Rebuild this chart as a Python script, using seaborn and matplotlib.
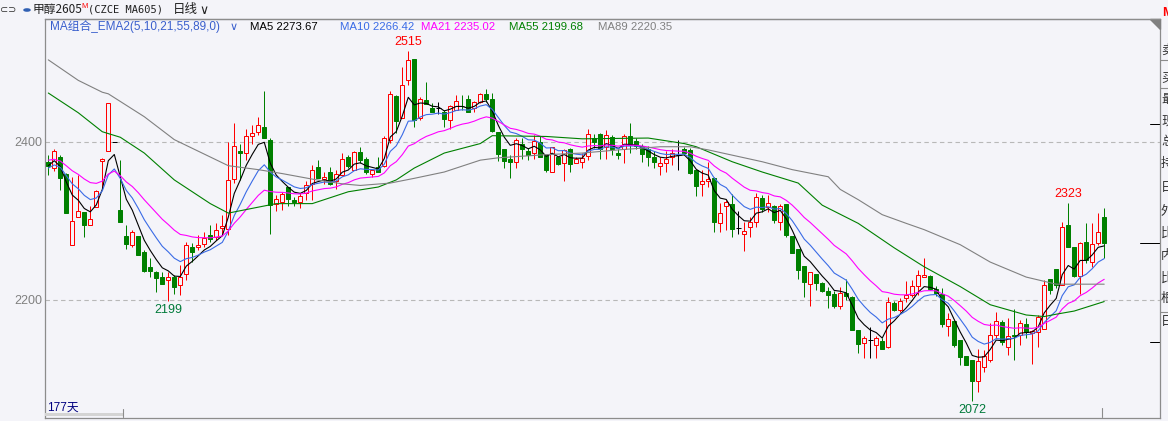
import matplotlib
matplotlib.use("Agg")
import matplotlib.pyplot as plt
import matplotlib.transforms as mtransforms
from matplotlib.patches import Rectangle, Polygon
import numpy as np
import pandas as pd
import seaborn as sns

# ---------------------------------------------------------------
# daily candles, methanol 2605
# ---------------------------------------------------------------
opens = [2375, 2367, 2381, 2360, 2270, 2305, 2311, 2295, 2318, 2376,
         2389, 2400, 2314, 2281, 2270, 2281, 2261, 2242, 2235, 2229,
         2225, 2229, 2219, 2233, 2267, 2267, 2271, 2282, 2280, 2291,
         2290, 2353, 2388, 2386, 2408, 2413, 2419, 2403, 2322, 2324,
         2343, 2327, 2324, 2335, 2347, 2368, 2353, 2362, 2351, 2358,
         2381, 2365, 2387, 2378, 2360, 2368, 2369, 2403, 2458, 2430,
         2479, 2505, 2431, 2453, 2443, 2443, 2438, 2428, 2441, 2446,
         2455, 2443, 2451, 2461, 2455, 2413, 2391, 2379, 2375, 2398,
         2388, 2386, 2400, 2384, 2362, 2381, 2373, 2391, 2374, 2375,
         2382, 2405, 2410, 2394, 2406, 2386, 2391, 2407, 2401, 2395,
         2391, 2381, 2370, 2374, 2381, 2384, 2391, 2390, 2365, 2347,
         2350, 2354, 2297, 2319, 2322, 2291, 2284, 2293, 2299, 2329,
         2318, 2319, 2299, 2322, 2281, 2264, 2243, 2220, 2233, 2222,
         2212, 2207, 2192, 2209, 2204, 2162, 2146, 2149, 2143, 2148,
         2141, 2196, 2187, 2202, 2206, 2218, 2229, 2230, 2214, 2208,
         2167, 2173, 2149, 2129, 2124, 2097, 2115, 2124, 2156, 2172,
         2141, 2156, 2156, 2170, 2158, 2160, 2163, 2227, 2239, 2219,
         2295, 2267, 2230, 2274, 2248, 2272, 2305]
closes = [2369, 2389, 2354, 2310, 2300, 2313, 2295, 2303, 2338, 2379,
          2449, 2400, 2299, 2271, 2286, 2257, 2237, 2237, 2228, 2220,
          2229, 2217, 2229, 2269, 2261, 2270, 2278, 2277, 2289, 2294,
          2352, 2395, 2386, 2408, 2412, 2422, 2405, 2320, 2328, 2334,
          2328, 2324, 2332, 2346, 2365, 2355, 2356, 2347, 2359, 2379,
          2370, 2387, 2377, 2362, 2364, 2362, 2405, 2461, 2427, 2472,
          2504, 2428, 2454, 2448, 2438, 2443, 2429, 2446, 2452, 2445,
          2438, 2450, 2461, 2455, 2414, 2385, 2376, 2375, 2402, 2391,
          2383, 2401, 2381, 2365, 2394, 2372, 2390, 2372, 2378, 2380,
          2410, 2400, 2391, 2409, 2391, 2384, 2408, 2396, 2395, 2385,
          2381, 2375, 2374, 2378, 2386, 2384, 2386, 2361, 2344, 2351,
          2353, 2299, 2310, 2324, 2290, 2291, 2287, 2299, 2330, 2315,
          2323, 2301, 2319, 2282, 2259, 2238, 2223, 2235, 2221, 2212,
          2206, 2192, 2209, 2205, 2162, 2144, 2152, 2149, 2152, 2138,
          2197, 2187, 2199, 2206, 2218, 2231, 2231, 2214, 2209, 2170,
          2176, 2143, 2128, 2118, 2098, 2123, 2129, 2156, 2173, 2147,
          2154, 2154, 2171, 2160, 2161, 2179, 2219, 2213, 2219, 2292,
          2267, 2230, 2272, 2250, 2271, 2286, 2272]
highs = [2384, 2391, 2384, 2361, 2356, 2358, 2312, 2319, 2339, 2380,
         2449, 2400, 2377, 2295, 2289, 2281, 2263, 2253, 2237, 2235,
         2235, 2232, 2244, 2274, 2272, 2282, 2286, 2295, 2297, 2308,
         2400, 2424, 2398, 2417, 2422, 2432, 2464, 2405, 2333, 2337,
         2343, 2331, 2335, 2350, 2371, 2377, 2362, 2368, 2365, 2386,
         2384, 2388, 2394, 2381, 2365, 2381, 2408, 2464, 2460, 2495,
         2515, 2505, 2457, 2476, 2449, 2450, 2441, 2447, 2460, 2460,
         2460, 2452, 2462, 2467, 2462, 2413, 2391, 2384, 2405, 2405,
         2393, 2409, 2407, 2384, 2394, 2381, 2391, 2392, 2381, 2386,
         2416, 2410, 2411, 2415, 2409, 2391, 2410, 2424, 2405, 2398,
         2395, 2388, 2381, 2389, 2391, 2403, 2394, 2392, 2365, 2365,
         2375, 2356, 2323, 2327, 2334, 2313, 2299, 2305, 2336, 2333,
         2333, 2320, 2322, 2322, 2281, 2264, 2243, 2236, 2233, 2223,
         2217, 2211, 2216, 2226, 2205, 2162, 2154, 2166, 2154, 2152,
         2204, 2199, 2202, 2224, 2225, 2238, 2253, 2232, 2218, 2215,
         2183, 2173, 2149, 2129, 2124, 2138, 2137, 2171, 2185, 2175,
         2177, 2188, 2175, 2177, 2162, 2181, 2225, 2227, 2239, 2299,
         2323, 2267, 2274, 2298, 2297, 2310, 2317]
lows = [2358, 2363, 2339, 2310, 2270, 2305, 2280, 2295, 2318, 2339,
        2389, 2400, 2299, 2265, 2267, 2257, 2236, 2229, 2210, 2220,
        2199, 2208, 2206, 2225, 2248, 2263, 2267, 2274, 2276, 2284,
        2282, 2348, 2352, 2377, 2398, 2409, 2405, 2284, 2313, 2314,
        2319, 2319, 2317, 2327, 2327, 2354, 2347, 2346, 2340, 2357,
        2367, 2364, 2373, 2360, 2356, 2362, 2368, 2399, 2411, 2430,
        2472, 2419, 2428, 2448, 2438, 2436, 2419, 2417, 2440, 2441,
        2438, 2438, 2449, 2451, 2413, 2376, 2367, 2355, 2367, 2378,
        2377, 2379, 2381, 2362, 2362, 2371, 2350, 2362, 2373, 2367,
        2377, 2392, 2378, 2378, 2384, 2378, 2373, 2386, 2391, 2375,
        2369, 2367, 2358, 2362, 2371, 2365, 2384, 2360, 2332, 2332,
        2343, 2286, 2286, 2289, 2280, 2284, 2262, 2280, 2293, 2312,
        2311, 2297, 2289, 2280, 2259, 2226, 2204, 2192, 2213, 2210,
        2190, 2190, 2188, 2200, 2162, 2133, 2127, 2126, 2126, 2138,
        2139, 2186, 2185, 2198, 2204, 2206, 2229, 2213, 2205, 2166,
        2154, 2141, 2118, 2118, 2072, 2083, 2109, 2122, 2152, 2143,
        2130, 2124, 2143, 2152, 2119, 2141, 2163, 2208, 2215, 2219,
        2267, 2229, 2208, 2247, 2242, 2270, 2253]

# short averages are rebuilt from the closes, long ones read off the chart
short_spans = [5, 10, 21]
short_start = [2370, 2367, 2377]   # line values at the first candle
ma55_idx = [0, 5, 9, 12, 16, 21, 27, 30, 34, 38, 44, 50, 55, 58, 61, 66, 72, 74,
            83, 89, 100, 106, 108, 114, 119, 125, 129, 135, 141, 146, 152, 157,
            163, 166, 168, 171, 176]
ma55_val = [2462, 2437, 2413, 2406, 2386, 2352, 2322, 2310, 2316, 2322, 2322, 2337,
            2343, 2352, 2367, 2386, 2398, 2408, 2407, 2404, 2405, 2398, 2394, 2375,
            2362, 2348, 2320, 2297, 2266, 2242, 2217, 2194, 2181, 2179, 2182, 2186,
            2198]
ma89_idx = [0, 5, 9, 10, 16, 21, 27, 30, 35, 39, 44, 49, 52, 57, 61, 66, 72, 75,
            83, 89, 95, 102, 107, 110, 119, 124, 130, 132, 135, 139, 143, 146, 152,
            157, 163, 168, 176]
ma89_val = [2504, 2478, 2463, 2461, 2432, 2403, 2381, 2370, 2365, 2360, 2353, 2347,
            2345, 2348, 2354, 2362, 2377, 2380, 2384, 2386, 2390, 2394, 2394, 2390,
            2375, 2365, 2356, 2340, 2327, 2308, 2297, 2289, 2270, 2248, 2229, 2220,
            2220]

ma_colors = ["#000000", "#3a6be6", "#ff00ff", "#008000", "#808080"]
ma_labels = ["MA5 2273.67", "MA10 2266.42", "MA21 2235.02", "MA55 2199.68", "MA89 2220.35"]
ma_label_x = [250, 340, 421, 509, 598]

grid_levels = [2200, 2400]
right_ticks = [2423, 2272, 2147]
extreme_idx = [60, 20, 170, 154]           # 2515, 2199, 2323, 2072
extreme_kind = ["high", "low", "high", "low"]

W, H = 1168, 421
BG = "#f4f4f9"
UP, DOWN = "#ff0000", "#008000"

sns.set_style("white")
plt.rcParams["font.family"] = ["Liberation Sans", "Noto Sans CJK SC"]


def ema(values, span, start):
    a = 2.0 / (span + 1)
    out = [start]
    for v in values[1:]:
        out.append(out[-1] + a * (v - out[-1]))
    return out


df = pd.DataFrame({"open": opens, "high": highs, "low": lows, "close": closes})
df["idx"] = np.arange(len(df))
for span, s0 in zip(short_spans, short_start):
    df[f"ma{span}"] = ema(closes, span, s0)
long_ma = pd.concat([
    pd.DataFrame({"idx": ma55_idx, "val": ma55_val, "ma": "MA55"}),
    pd.DataFrame({"idx": ma89_idx, "val": ma89_val, "ma": "MA89"}),
])

fig = plt.figure(figsize=(W / 100, H / 100), dpi=100, facecolor=BG)
ax = fig.add_axes([45 / W, 1 - 418 / H, (1160 - 45) / W, (418 - 19) / H], facecolor=BG)


def fx(x):
    return x / W


def fy(y):
    return 1 - y / H


# candles
up = df[df.close > df.open]
dn = df[df.close < df.open]
dj = df[df.close == df.open]
px = 0.72
ax.vlines(up.idx, up.low, up.high, color=UP, lw=px, zorder=2)
ax.bar(up.idx, up.close - up.open, bottom=up.open, width=0.7,
       facecolor=BG, edgecolor=UP, linewidth=px, zorder=3)
ax.vlines(dn.idx, dn.low, dn.high, color=DOWN, lw=px, zorder=2)
ax.bar(dn.idx, dn.open - dn.close, bottom=dn.close, width=0.7,
       facecolor=DOWN, edgecolor=DOWN, linewidth=px, zorder=3)
ax.vlines(dj.idx, dj.low, dj.high, color="black", lw=px, zorder=2)
ax.hlines(dj.open, dj.idx - 0.45, dj.idx + 0.45, color="black", lw=px, zorder=3)

# moving averages
for span, col in zip(short_spans, ma_colors[:3]):
    sns.lineplot(data=df, x="idx", y=f"ma{span}", ax=ax, color=col,
                 linewidth=0.8, zorder=4)
sns.lineplot(data=long_ma, x="idx", y="val", hue="ma", ax=ax,
             palette=ma_colors[3:], linewidth=0.8, zorder=4, legend=False)

for lv in grid_levels:
    ax.axhline(lv, color="#b8b8b8", lw=0.8, ls=(0, (4, 3)), zorder=1)

ax.set_xlim(-0.55, 185.3)
ax.set_ylim(2050.6, 2555.7)
ax.set_xlabel(""); ax.set_ylabel("")
ax.set_xticks([])
ax.set_yticks(grid_levels)
ax.set_yticklabels([str(v) for v in grid_levels])
ax.tick_params(axis="y", length=0, pad=2, labelcolor="#808080", labelsize=9)
for sp in ax.spines.values():
    sp.set_color("#8c8c8c"); sp.set_linewidth(0.9)

# right-side tick marks
tr = mtransforms.blended_transform_factory(ax.transAxes, ax.transData)
for i, p in enumerate(right_ticks):
    ln = 20 if i == 1 else 10
    ax.plot([1 - ln / 1115, 1], [p, p], color="black", lw=px, transform=tr, clip_on=False)

# extreme labels
for i, kind in zip(extreme_idx, extreme_kind):
    if kind == "high":
        ax.annotate(str(highs[i]), (i, highs[i]), xytext=(0, 2), textcoords="offset points",
                    ha="center", va="bottom", color=UP, fontsize=9)
    else:
        ax.annotate(str(lows[i]), (i, lows[i]), xytext=(0, -2), textcoords="offset points",
                    ha="center", va="top", color="#007a3a", fontsize=9)

# title bar
fig.text(fx(0), fy(10), "⊂⊃", fontsize=7, color="#333333", va="center", family=["DejaVu Sans"])
fig.patches.append(plt.Circle((fx(27), fy(10)), 3 / W, transform=fig.transFigure,
                              color="#2f5fb3", figure=fig))
fig.text(fx(33), fy(10), "甲醇2605", fontsize=8.5, va="center", color="#202020",
         family=["Noto Sans CJK SC", "DejaVu Sans"])
fig.text(fx(81), fy(6), "M", fontsize=5.5, va="center", color="#ff0000")
fig.text(fx(88), fy(10), "(CZCE MA605)", fontsize=7.5, va="center", color="#202020",
         family=["DejaVu Sans Mono"])
fig.text(fx(173), fy(10), "日线", fontsize=9, va="center", color="#202020",
         family=["Noto Sans CJK SC", "DejaVu Sans"])
fig.text(fx(199), fy(10), "∨", fontsize=9, va="center", color="#202020", family=["DejaVu Sans"])
fig.add_artist(plt.Line2D([fx(45), fx(1160)], [fy(19), fy(19)], color="#8c8c8c", lw=0.9))

# legend row
fig.text(fx(50), fy(27), "MA组合_EMA2(5,10,21,55,89,0)", fontsize=8.5, va="center", color="#3a5fcd")
fig.text(fx(230), fy(27), "∨", fontsize=8, va="center", color="#3a5fcd", family=["DejaVu Sans"])
for lab, x, col in zip(ma_labels, ma_label_x, ma_colors):
    fig.text(fx(x), fy(27), lab, fontsize=8.2, va="center", color=col)

# bottom strip
fig.text(fx(47), fy(408), "177天", fontsize=8.5, va="center", color="#000080")
fig.patches.append(Rectangle((fx(45), fy(416)), 78 / W, 3 / H, transform=fig.transFigure,
                             facecolor="#d4d4d4", edgecolor="none", figure=fig))
fig.add_artist(plt.Line2D([fx(123), fx(123)], [fy(409), fy(417)], color="#8c8c8c", lw=0.8))
fig.add_artist(plt.Line2D([fx(1102), fx(1102)], [fy(408), fy(417)], color="#8c8c8c", lw=0.8))

# side panel (mostly cut off)
fig.patches.append(Polygon([[fx(1150), fy(19)], [fx(1160), fy(19)], [fx(1160), fy(29)]],
                           closed=True, transform=fig.transFigure, color="#808080", figure=fig))
fig.text(fx(1162), fy(13), "M", fontsize=9, va="center", color="#ff0000", fontweight="bold")
side_chars = ["卖", "买", "最", "现", "总", "持", "日", "外", "比", "内", "比", "根", "日"]
side_y = [50, 78, 100, 121, 142, 164, 188, 212, 233, 256, 278, 298, 322]
for ch, y in zip(side_chars, side_y):
    fig.text(fx(1161), fy(y), ch, fontsize=9, va="center", color="#303030",
             family=["Noto Sans CJK SC"])
for y in [60, 88, 312]:
    fig.add_artist(plt.Line2D([fx(1160), fx(1168)], [fy(y), fy(y)], color="#8c8c8c", lw=0.8))

fig.savefig("out.png", dpi=100, facecolor=BG)
